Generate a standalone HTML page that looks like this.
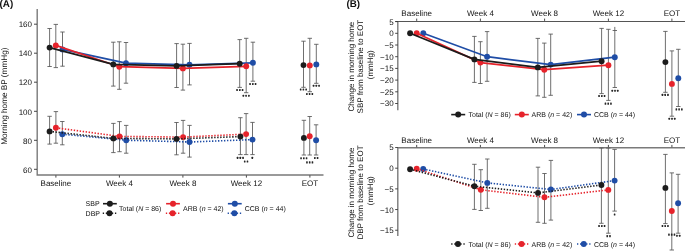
<!DOCTYPE html>
<html><head><meta charset="utf-8"><style>
html,body{margin:0;padding:0;background:#fff;}
body{width:685px;height:251px;overflow:hidden;}
svg{display:block;font-family:"Liberation Sans", sans-serif;will-change:transform;text-rendering:geometricPrecision;}
</style></head><body>
<svg width="685" height="251" viewBox="0 0 685 251">
<text x="-0.4" y="7.0" font-size="9.8" font-weight="bold" fill="#111">(A)</text>
<path d="M37.2,9 V175 H323.5" fill="none" stroke="#7a7a7a" stroke-width="1.4"/>
<line x1="34" y1="24.2" x2="37" y2="24.2" stroke="#333" stroke-width="0.9" />
<text x="32.0" y="27.4" font-size="8" text-anchor="end" font-weight="normal" fill="#111" >160</text>
<line x1="34" y1="53.2" x2="37" y2="53.2" stroke="#333" stroke-width="0.9" />
<text x="32.0" y="56.4" font-size="8" text-anchor="end" font-weight="normal" fill="#111" >140</text>
<line x1="34" y1="82.2" x2="37" y2="82.2" stroke="#333" stroke-width="0.9" />
<text x="32.0" y="85.4" font-size="8" text-anchor="end" font-weight="normal" fill="#111" >120</text>
<line x1="34" y1="111.3" x2="37" y2="111.3" stroke="#333" stroke-width="0.9" />
<text x="32.0" y="114.5" font-size="8" text-anchor="end" font-weight="normal" fill="#111" >100</text>
<line x1="34" y1="140.3" x2="37" y2="140.3" stroke="#333" stroke-width="0.9" />
<text x="32.0" y="143.5" font-size="8" text-anchor="end" font-weight="normal" fill="#111" >80</text>
<line x1="34" y1="169.3" x2="37" y2="169.3" stroke="#333" stroke-width="0.9" />
<text x="32.0" y="172.5" font-size="8" text-anchor="end" font-weight="normal" fill="#111" >60</text>
<line x1="55.9" y1="175.3" x2="55.9" y2="177.6" stroke="#333" stroke-width="0.9" />
<text x="55.9" y="185.9" font-size="8" text-anchor="middle" font-weight="normal" fill="#111" >Baseline</text>
<line x1="119.4" y1="175.3" x2="119.4" y2="177.6" stroke="#333" stroke-width="0.9" />
<text x="119.4" y="185.9" font-size="8" text-anchor="middle" font-weight="normal" fill="#111" >Week 4</text>
<line x1="182.9" y1="175.3" x2="182.9" y2="177.6" stroke="#333" stroke-width="0.9" />
<text x="182.9" y="185.9" font-size="8" text-anchor="middle" font-weight="normal" fill="#111" >Week 8</text>
<line x1="246.4" y1="175.3" x2="246.4" y2="177.6" stroke="#333" stroke-width="0.9" />
<text x="246.4" y="185.9" font-size="8" text-anchor="middle" font-weight="normal" fill="#111" >Week 12</text>
<line x1="309.9" y1="175.3" x2="309.9" y2="177.6" stroke="#333" stroke-width="0.9" />
<text x="309.9" y="185.9" font-size="8" text-anchor="middle" font-weight="normal" fill="#111" >EOT</text>
<text transform="translate(7.2,96.2) rotate(-90)" font-size="8.2" text-anchor="middle" fill="#111">Morning home BP (mmHg)</text>
<line x1="49.6" y1="28.5" x2="49.6" y2="66.5" stroke="#555" stroke-width="0.85" />
<line x1="47.4" y1="28.5" x2="51.8" y2="28.5" stroke="#555" stroke-width="0.85" />
<line x1="47.4" y1="66.5" x2="51.8" y2="66.5" stroke="#555" stroke-width="0.85" />
<line x1="113.3" y1="42.2" x2="113.3" y2="86.1" stroke="#555" stroke-width="0.85" />
<line x1="111.1" y1="42.2" x2="115.5" y2="42.2" stroke="#555" stroke-width="0.85" />
<line x1="111.1" y1="86.1" x2="115.5" y2="86.1" stroke="#555" stroke-width="0.85" />
<line x1="176.6" y1="43.6" x2="176.6" y2="87.5" stroke="#555" stroke-width="0.85" />
<line x1="174.4" y1="43.6" x2="178.8" y2="43.6" stroke="#555" stroke-width="0.85" />
<line x1="174.4" y1="87.5" x2="178.8" y2="87.5" stroke="#555" stroke-width="0.85" />
<line x1="239.7" y1="39.6" x2="239.7" y2="87.4" stroke="#555" stroke-width="0.85" />
<line x1="237.5" y1="39.6" x2="241.9" y2="39.6" stroke="#555" stroke-width="0.85" />
<line x1="237.5" y1="87.4" x2="241.9" y2="87.4" stroke="#555" stroke-width="0.85" />
<line x1="303.5" y1="41.2" x2="303.5" y2="87.3" stroke="#555" stroke-width="0.85" />
<line x1="301.3" y1="41.2" x2="305.7" y2="41.2" stroke="#555" stroke-width="0.85" />
<line x1="301.3" y1="87.3" x2="305.7" y2="87.3" stroke="#555" stroke-width="0.85" />
<line x1="49.6" y1="116.3" x2="49.6" y2="144.1" stroke="#555" stroke-width="0.85" />
<line x1="47.4" y1="116.3" x2="51.8" y2="116.3" stroke="#555" stroke-width="0.85" />
<line x1="47.4" y1="144.1" x2="51.8" y2="144.1" stroke="#555" stroke-width="0.85" />
<line x1="113.4" y1="123.4" x2="113.4" y2="152.6" stroke="#555" stroke-width="0.85" />
<line x1="111.2" y1="123.4" x2="115.6" y2="123.4" stroke="#555" stroke-width="0.85" />
<line x1="111.2" y1="152.6" x2="115.6" y2="152.6" stroke="#555" stroke-width="0.85" />
<line x1="176.5" y1="122.5" x2="176.5" y2="154.8" stroke="#555" stroke-width="0.85" />
<line x1="174.3" y1="122.5" x2="178.7" y2="122.5" stroke="#555" stroke-width="0.85" />
<line x1="174.3" y1="154.8" x2="178.7" y2="154.8" stroke="#555" stroke-width="0.85" />
<line x1="240.4" y1="117.7" x2="240.4" y2="154.6" stroke="#555" stroke-width="0.85" />
<line x1="238.2" y1="117.7" x2="242.6" y2="117.7" stroke="#555" stroke-width="0.85" />
<line x1="238.2" y1="154.6" x2="242.6" y2="154.6" stroke="#555" stroke-width="0.85" />
<line x1="303.9" y1="120.3" x2="303.9" y2="155.0" stroke="#555" stroke-width="0.85" />
<line x1="301.7" y1="120.3" x2="306.1" y2="120.3" stroke="#555" stroke-width="0.85" />
<line x1="301.7" y1="155.0" x2="306.1" y2="155.0" stroke="#555" stroke-width="0.85" />
<line x1="55.8" y1="24.4" x2="55.8" y2="67.6" stroke="#555" stroke-width="0.85" />
<line x1="53.6" y1="24.4" x2="58.0" y2="24.4" stroke="#555" stroke-width="0.85" />
<line x1="53.6" y1="67.6" x2="58.0" y2="67.6" stroke="#555" stroke-width="0.85" />
<line x1="119.3" y1="41.8" x2="119.3" y2="89.3" stroke="#555" stroke-width="0.85" />
<line x1="117.1" y1="41.8" x2="121.5" y2="41.8" stroke="#555" stroke-width="0.85" />
<line x1="117.1" y1="89.3" x2="121.5" y2="89.3" stroke="#555" stroke-width="0.85" />
<line x1="182.9" y1="44.2" x2="182.9" y2="90.1" stroke="#555" stroke-width="0.85" />
<line x1="180.7" y1="44.2" x2="185.1" y2="44.2" stroke="#555" stroke-width="0.85" />
<line x1="180.7" y1="90.1" x2="185.1" y2="90.1" stroke="#555" stroke-width="0.85" />
<line x1="246.2" y1="38.3" x2="246.2" y2="92.7" stroke="#555" stroke-width="0.85" />
<line x1="244.0" y1="38.3" x2="248.4" y2="38.3" stroke="#555" stroke-width="0.85" />
<line x1="244.0" y1="92.7" x2="248.4" y2="92.7" stroke="#555" stroke-width="0.85" />
<line x1="309.8" y1="38.3" x2="309.8" y2="91.7" stroke="#555" stroke-width="0.85" />
<line x1="307.6" y1="38.3" x2="312.0" y2="38.3" stroke="#555" stroke-width="0.85" />
<line x1="307.6" y1="91.7" x2="312.0" y2="91.7" stroke="#555" stroke-width="0.85" />
<line x1="55.9" y1="111.6" x2="55.9" y2="143.2" stroke="#555" stroke-width="0.85" />
<line x1="53.7" y1="111.6" x2="58.1" y2="111.6" stroke="#555" stroke-width="0.85" />
<line x1="53.7" y1="143.2" x2="58.1" y2="143.2" stroke="#555" stroke-width="0.85" />
<line x1="119.5" y1="121.6" x2="119.5" y2="151.7" stroke="#555" stroke-width="0.85" />
<line x1="117.3" y1="121.6" x2="121.7" y2="121.6" stroke="#555" stroke-width="0.85" />
<line x1="117.3" y1="151.7" x2="121.7" y2="151.7" stroke="#555" stroke-width="0.85" />
<line x1="183.1" y1="120.4" x2="183.1" y2="153.2" stroke="#555" stroke-width="0.85" />
<line x1="180.9" y1="120.4" x2="185.3" y2="120.4" stroke="#555" stroke-width="0.85" />
<line x1="180.9" y1="153.2" x2="185.3" y2="153.2" stroke="#555" stroke-width="0.85" />
<line x1="246.1" y1="113.6" x2="246.1" y2="154.6" stroke="#555" stroke-width="0.85" />
<line x1="243.9" y1="113.6" x2="248.3" y2="113.6" stroke="#555" stroke-width="0.85" />
<line x1="243.9" y1="154.6" x2="248.3" y2="154.6" stroke="#555" stroke-width="0.85" />
<line x1="309.7" y1="116.5" x2="309.7" y2="155.0" stroke="#555" stroke-width="0.85" />
<line x1="307.5" y1="116.5" x2="311.9" y2="116.5" stroke="#555" stroke-width="0.85" />
<line x1="307.5" y1="155.0" x2="311.9" y2="155.0" stroke="#555" stroke-width="0.85" />
<line x1="62.5" y1="32.0" x2="62.5" y2="66.2" stroke="#555" stroke-width="0.85" />
<line x1="60.3" y1="32.0" x2="64.7" y2="32.0" stroke="#555" stroke-width="0.85" />
<line x1="60.3" y1="66.2" x2="64.7" y2="66.2" stroke="#555" stroke-width="0.85" />
<line x1="126.0" y1="42.5" x2="126.0" y2="83.2" stroke="#555" stroke-width="0.85" />
<line x1="123.8" y1="42.5" x2="128.2" y2="42.5" stroke="#555" stroke-width="0.85" />
<line x1="123.8" y1="83.2" x2="128.2" y2="83.2" stroke="#555" stroke-width="0.85" />
<line x1="189.5" y1="43.4" x2="189.5" y2="84.9" stroke="#555" stroke-width="0.85" />
<line x1="187.3" y1="43.4" x2="191.7" y2="43.4" stroke="#555" stroke-width="0.85" />
<line x1="187.3" y1="84.9" x2="191.7" y2="84.9" stroke="#555" stroke-width="0.85" />
<line x1="252.9" y1="42.2" x2="252.9" y2="81.2" stroke="#555" stroke-width="0.85" />
<line x1="250.7" y1="42.2" x2="255.1" y2="42.2" stroke="#555" stroke-width="0.85" />
<line x1="250.7" y1="81.2" x2="255.1" y2="81.2" stroke="#555" stroke-width="0.85" />
<line x1="316.3" y1="44.3" x2="316.3" y2="83.3" stroke="#555" stroke-width="0.85" />
<line x1="314.1" y1="44.3" x2="318.5" y2="44.3" stroke="#555" stroke-width="0.85" />
<line x1="314.1" y1="83.3" x2="318.5" y2="83.3" stroke="#555" stroke-width="0.85" />
<line x1="62.3" y1="121.5" x2="62.3" y2="144.8" stroke="#555" stroke-width="0.85" />
<line x1="60.1" y1="121.5" x2="64.5" y2="121.5" stroke="#555" stroke-width="0.85" />
<line x1="60.1" y1="144.8" x2="64.5" y2="144.8" stroke="#555" stroke-width="0.85" />
<line x1="126.2" y1="125.4" x2="126.2" y2="153.2" stroke="#555" stroke-width="0.85" />
<line x1="124.0" y1="125.4" x2="128.4" y2="125.4" stroke="#555" stroke-width="0.85" />
<line x1="124.0" y1="153.2" x2="128.4" y2="153.2" stroke="#555" stroke-width="0.85" />
<line x1="189.5" y1="125.4" x2="189.5" y2="157.1" stroke="#555" stroke-width="0.85" />
<line x1="187.3" y1="125.4" x2="191.7" y2="125.4" stroke="#555" stroke-width="0.85" />
<line x1="187.3" y1="157.1" x2="191.7" y2="157.1" stroke="#555" stroke-width="0.85" />
<line x1="252.5" y1="122.4" x2="252.5" y2="154.6" stroke="#555" stroke-width="0.85" />
<line x1="250.3" y1="122.4" x2="254.7" y2="122.4" stroke="#555" stroke-width="0.85" />
<line x1="250.3" y1="154.6" x2="254.7" y2="154.6" stroke="#555" stroke-width="0.85" />
<line x1="316.1" y1="124.8" x2="316.1" y2="155.0" stroke="#555" stroke-width="0.85" />
<line x1="313.9" y1="124.8" x2="318.3" y2="124.8" stroke="#555" stroke-width="0.85" />
<line x1="313.9" y1="155.0" x2="318.3" y2="155.0" stroke="#555" stroke-width="0.85" />
<path d="M62.5,49.4 L126.0,63.2 L189.5,64.8 L252.9,62.8" fill="none" stroke="#1f4da6" stroke-width="1.7" />
<circle cx="62.5" cy="49.4" r="2.95" fill="#1f4da6"/>
<circle cx="126.0" cy="63.2" r="2.95" fill="#1f4da6"/>
<circle cx="189.5" cy="64.8" r="2.95" fill="#1f4da6"/>
<circle cx="252.9" cy="62.8" r="2.95" fill="#1f4da6"/>
<path d="M62.3,134.2 L126.2,140.2 L189.5,142.0 L252.5,139.6" fill="none" stroke="#1f4da6" stroke-width="1.6" stroke-dasharray="1.4,1.6"/>
<circle cx="62.3" cy="134.2" r="2.95" fill="#1f4da6"/>
<circle cx="126.2" cy="140.2" r="2.95" fill="#1f4da6"/>
<circle cx="189.5" cy="142.0" r="2.95" fill="#1f4da6"/>
<circle cx="252.5" cy="139.6" r="2.95" fill="#1f4da6"/>
<path d="M55.8,45.4 L119.3,66.7 L182.9,68.4 L246.2,66.3" fill="none" stroke="#e6232b" stroke-width="1.7" />
<circle cx="55.8" cy="45.4" r="2.95" fill="#e6232b"/>
<circle cx="119.3" cy="66.7" r="2.95" fill="#e6232b"/>
<circle cx="182.9" cy="68.4" r="2.95" fill="#e6232b"/>
<circle cx="246.2" cy="66.3" r="2.95" fill="#e6232b"/>
<path d="M55.9,127.8 L119.5,136.4 L183.1,137.1 L246.1,134.1" fill="none" stroke="#e6232b" stroke-width="1.6" stroke-dasharray="1.4,1.6"/>
<circle cx="55.9" cy="127.8" r="2.95" fill="#e6232b"/>
<circle cx="119.5" cy="136.4" r="2.95" fill="#e6232b"/>
<circle cx="183.1" cy="137.1" r="2.95" fill="#e6232b"/>
<circle cx="246.1" cy="134.1" r="2.95" fill="#e6232b"/>
<path d="M49.6,47.6 L113.3,64.4 L176.6,65.9 L239.7,63.7" fill="none" stroke="#1c1c1c" stroke-width="1.7" />
<circle cx="49.6" cy="47.6" r="2.95" fill="#1c1c1c"/>
<circle cx="113.3" cy="64.4" r="2.95" fill="#1c1c1c"/>
<circle cx="176.6" cy="65.9" r="2.95" fill="#1c1c1c"/>
<circle cx="239.7" cy="63.7" r="2.95" fill="#1c1c1c"/>
<path d="M49.6,131.4 L113.4,138.4 L176.5,138.9 L240.4,136.6" fill="none" stroke="#1c1c1c" stroke-width="1.6" stroke-dasharray="1.4,1.6"/>
<circle cx="49.6" cy="131.4" r="2.95" fill="#1c1c1c"/>
<circle cx="113.4" cy="138.4" r="2.95" fill="#1c1c1c"/>
<circle cx="176.5" cy="138.9" r="2.95" fill="#1c1c1c"/>
<circle cx="240.4" cy="136.6" r="2.95" fill="#1c1c1c"/>
<circle cx="303.5" cy="65.1" r="2.95" fill="#1c1c1c"/>
<circle cx="303.9" cy="137.9" r="2.95" fill="#1c1c1c"/>
<circle cx="309.8" cy="65.4" r="2.95" fill="#e6232b"/>
<circle cx="309.7" cy="136.2" r="2.95" fill="#e6232b"/>
<circle cx="316.3" cy="64.4" r="2.95" fill="#1f4da6"/>
<circle cx="316.1" cy="140.2" r="2.95" fill="#1f4da6"/>
<rect x="236.25" y="88.95" width="1.6" height="2.1" rx="0.5" fill="#262626"/>
<rect x="239.00" y="88.95" width="1.6" height="2.1" rx="0.5" fill="#262626"/>
<rect x="241.75" y="88.95" width="1.6" height="2.1" rx="0.5" fill="#262626"/>
<rect x="242.55" y="94.65" width="1.6" height="2.1" rx="0.5" fill="#262626"/>
<rect x="245.30" y="94.65" width="1.6" height="2.1" rx="0.5" fill="#262626"/>
<rect x="248.05" y="94.65" width="1.6" height="2.1" rx="0.5" fill="#262626"/>
<rect x="249.25" y="82.95" width="1.6" height="2.1" rx="0.5" fill="#262626"/>
<rect x="252.00" y="82.95" width="1.6" height="2.1" rx="0.5" fill="#262626"/>
<rect x="254.75" y="82.95" width="1.6" height="2.1" rx="0.5" fill="#262626"/>
<rect x="299.85" y="88.45" width="1.6" height="2.1" rx="0.5" fill="#262626"/>
<rect x="302.60" y="88.45" width="1.6" height="2.1" rx="0.5" fill="#262626"/>
<rect x="305.35" y="88.45" width="1.6" height="2.1" rx="0.5" fill="#262626"/>
<rect x="306.05" y="92.95" width="1.6" height="2.1" rx="0.5" fill="#262626"/>
<rect x="308.80" y="92.95" width="1.6" height="2.1" rx="0.5" fill="#262626"/>
<rect x="311.55" y="92.95" width="1.6" height="2.1" rx="0.5" fill="#262626"/>
<rect x="312.75" y="84.75" width="1.6" height="2.1" rx="0.5" fill="#262626"/>
<rect x="315.50" y="84.75" width="1.6" height="2.1" rx="0.5" fill="#262626"/>
<rect x="318.25" y="84.75" width="1.6" height="2.1" rx="0.5" fill="#262626"/>
<rect x="236.75" y="156.85" width="1.6" height="2.1" rx="0.5" fill="#262626"/>
<rect x="239.50" y="156.85" width="1.6" height="2.1" rx="0.5" fill="#262626"/>
<rect x="242.25" y="156.85" width="1.6" height="2.1" rx="0.5" fill="#262626"/>
<rect x="243.92" y="160.45" width="1.6" height="2.1" rx="0.5" fill="#262626"/>
<rect x="246.67" y="160.45" width="1.6" height="2.1" rx="0.5" fill="#262626"/>
<rect x="251.50" y="156.85" width="1.6" height="2.1" rx="0.5" fill="#262626"/>
<rect x="300.25" y="157.15" width="1.6" height="2.1" rx="0.5" fill="#262626"/>
<rect x="303.00" y="157.15" width="1.6" height="2.1" rx="0.5" fill="#262626"/>
<rect x="305.75" y="157.15" width="1.6" height="2.1" rx="0.5" fill="#262626"/>
<rect x="306.15" y="161.35" width="1.6" height="2.1" rx="0.5" fill="#262626"/>
<rect x="308.90" y="161.35" width="1.6" height="2.1" rx="0.5" fill="#262626"/>
<rect x="311.65" y="161.35" width="1.6" height="2.1" rx="0.5" fill="#262626"/>
<rect x="314.02" y="156.95" width="1.6" height="2.1" rx="0.5" fill="#262626"/>
<rect x="316.77" y="156.95" width="1.6" height="2.1" rx="0.5" fill="#262626"/>
<text x="85.6" y="206.2" font-size="7" text-anchor="start" font-weight="normal" fill="#111" >SBP</text>
<text x="85.6" y="215.8" font-size="7" text-anchor="start" font-weight="normal" fill="#111" >DBP</text>
<line x1="103" y1="203.7" x2="116.8" y2="203.7" stroke="#1c1c1c" stroke-width="1.6"/>
<circle cx="109.90" cy="203.7" r="3.0" fill="#1c1c1c"/>
<line x1="102.75" y1="213.2" x2="116.25" y2="213.2" stroke="#1c1c1c" stroke-width="1.5" stroke-dasharray="1.3,1.75"/>
<circle cx="109.50" cy="213.2" r="3.0" fill="#1c1c1c"/>
<line x1="166.1" y1="203.7" x2="179.9" y2="203.7" stroke="#e6232b" stroke-width="1.6"/>
<circle cx="173.00" cy="203.7" r="3.0" fill="#e6232b"/>
<line x1="165.85" y1="213.2" x2="179.35" y2="213.2" stroke="#e6232b" stroke-width="1.5" stroke-dasharray="1.3,1.75"/>
<circle cx="172.60" cy="213.2" r="3.0" fill="#e6232b"/>
<line x1="227.9" y1="203.7" x2="241.7" y2="203.7" stroke="#1f4da6" stroke-width="1.6"/>
<circle cx="234.80" cy="203.7" r="3.0" fill="#1f4da6"/>
<line x1="227.65" y1="213.2" x2="241.15" y2="213.2" stroke="#1f4da6" stroke-width="1.5" stroke-dasharray="1.3,1.75"/>
<circle cx="234.40" cy="213.2" r="3.0" fill="#1f4da6"/>
<text x="119.1" y="211.2" font-size="7" text-anchor="start" font-weight="normal" fill="#111" >Total (<tspan font-style="italic">N</tspan> = 86)</text>
<text x="183.0" y="211.2" font-size="7" text-anchor="start" font-weight="normal" fill="#111" >ARB (<tspan font-style="italic">n</tspan> = 42)</text>
<text x="244.7" y="211.2" font-size="7" text-anchor="start" font-weight="normal" fill="#111" >CCB (<tspan font-style="italic">n</tspan> = 44)</text>
<text x="346.4" y="7.0" font-size="9.8" font-weight="bold" fill="#111">(B)</text>
<path d="M397.8,21.4 V110.3" fill="none" stroke="#7a7a7a" stroke-width="1.4"/>
<line x1="395.3" y1="21.5" x2="685" y2="21.5" stroke="#555" stroke-width="1.1"/>
<line x1="395.2" y1="21.6" x2="397.8" y2="21.6" stroke="#333" stroke-width="0.9" />
<text x="393.6" y="24.55" font-size="8" text-anchor="end" font-weight="normal" fill="#111" >5</text>
<line x1="395.2" y1="33.3" x2="397.8" y2="33.3" stroke="#333" stroke-width="0.9" />
<text x="393.6" y="36.25" font-size="8" text-anchor="end" font-weight="normal" fill="#111" >0</text>
<line x1="395.2" y1="45.0" x2="397.8" y2="45.0" stroke="#333" stroke-width="0.9" />
<text x="393.6" y="47.95" font-size="8" text-anchor="end" font-weight="normal" fill="#111" >−5</text>
<line x1="395.2" y1="56.7" x2="397.8" y2="56.7" stroke="#333" stroke-width="0.9" />
<text x="393.6" y="59.65" font-size="8" text-anchor="end" font-weight="normal" fill="#111" >−10</text>
<line x1="395.2" y1="68.4" x2="397.8" y2="68.4" stroke="#333" stroke-width="0.9" />
<text x="393.6" y="71.35" font-size="8" text-anchor="end" font-weight="normal" fill="#111" >−15</text>
<line x1="395.2" y1="80.1" x2="397.8" y2="80.1" stroke="#333" stroke-width="0.9" />
<text x="393.6" y="83.05" font-size="8" text-anchor="end" font-weight="normal" fill="#111" >−20</text>
<line x1="395.2" y1="91.8" x2="397.8" y2="91.8" stroke="#333" stroke-width="0.9" />
<text x="393.6" y="94.75" font-size="8" text-anchor="end" font-weight="normal" fill="#111" >−25</text>
<line x1="395.2" y1="103.5" x2="397.8" y2="103.5" stroke="#333" stroke-width="0.9" />
<text x="393.6" y="106.45" font-size="8" text-anchor="end" font-weight="normal" fill="#111" >−30</text>
<line x1="416.7" y1="20.9" x2="416.7" y2="18.6" stroke="#333" stroke-width="0.9" />
<text x="416.7" y="16.4" font-size="8" text-anchor="middle" font-weight="normal" fill="#111" >Baseline</text>
<line x1="480.4" y1="20.9" x2="480.4" y2="18.6" stroke="#333" stroke-width="0.9" />
<text x="480.4" y="16.4" font-size="8" text-anchor="middle" font-weight="normal" fill="#111" >Week 4</text>
<line x1="544.6" y1="20.9" x2="544.6" y2="18.6" stroke="#333" stroke-width="0.9" />
<text x="544.6" y="16.4" font-size="8" text-anchor="middle" font-weight="normal" fill="#111" >Week 8</text>
<line x1="608.4" y1="20.9" x2="608.4" y2="18.6" stroke="#333" stroke-width="0.9" />
<text x="608.4" y="16.4" font-size="8" text-anchor="middle" font-weight="normal" fill="#111" >Week 12</text>
<line x1="671.9" y1="20.9" x2="671.9" y2="18.6" stroke="#333" stroke-width="0.9" />
<text x="671.9" y="16.4" font-size="8" text-anchor="middle" font-weight="normal" fill="#111" >EOT</text>
<text transform="translate(354.0,66.6) rotate(-90)" font-size="8" text-anchor="middle" fill="#111">Change in morning home</text>
<text transform="translate(363.3,66.6) rotate(-90)" font-size="8" text-anchor="middle" fill="#111">SBP from baseline to EOT</text>
<text transform="translate(372.6,64.8) rotate(-90)" font-size="8" text-anchor="middle" fill="#111">(mmHg)</text>
<path d="M685,147.7 H397.8 V236.1" fill="none" stroke="#7a7a7a" stroke-width="1.4"/>
<line x1="395.2" y1="147.52" x2="397.8" y2="147.52" stroke="#333" stroke-width="0.9" />
<text x="393.6" y="150.47" font-size="8" text-anchor="end" font-weight="normal" fill="#111" >5</text>
<line x1="395.2" y1="168.2" x2="397.8" y2="168.2" stroke="#333" stroke-width="0.9" />
<text x="393.6" y="171.15" font-size="8" text-anchor="end" font-weight="normal" fill="#111" >0</text>
<line x1="395.2" y1="188.88" x2="397.8" y2="188.88" stroke="#333" stroke-width="0.9" />
<text x="393.6" y="191.82" font-size="8" text-anchor="end" font-weight="normal" fill="#111" >−5</text>
<line x1="395.2" y1="209.55" x2="397.8" y2="209.55" stroke="#333" stroke-width="0.9" />
<text x="393.6" y="212.5" font-size="8" text-anchor="end" font-weight="normal" fill="#111" >−10</text>
<line x1="395.2" y1="230.22" x2="397.8" y2="230.22" stroke="#333" stroke-width="0.9" />
<text x="393.6" y="233.17" font-size="8" text-anchor="end" font-weight="normal" fill="#111" >−15</text>
<line x1="416.7" y1="147.2" x2="416.7" y2="144.9" stroke="#333" stroke-width="0.9" />
<text x="416.7" y="142.7" font-size="8" text-anchor="middle" font-weight="normal" fill="#111" >Baseline</text>
<line x1="480.4" y1="147.2" x2="480.4" y2="144.9" stroke="#333" stroke-width="0.9" />
<text x="480.4" y="142.7" font-size="8" text-anchor="middle" font-weight="normal" fill="#111" >Week 4</text>
<line x1="544.6" y1="147.2" x2="544.6" y2="144.9" stroke="#333" stroke-width="0.9" />
<text x="544.6" y="142.7" font-size="8" text-anchor="middle" font-weight="normal" fill="#111" >Week 8</text>
<line x1="608.4" y1="147.2" x2="608.4" y2="144.9" stroke="#333" stroke-width="0.9" />
<text x="608.4" y="142.7" font-size="8" text-anchor="middle" font-weight="normal" fill="#111" >Week 12</text>
<line x1="671.9" y1="147.2" x2="671.9" y2="144.9" stroke="#333" stroke-width="0.9" />
<text x="671.9" y="142.7" font-size="8" text-anchor="middle" font-weight="normal" fill="#111" >EOT</text>
<text transform="translate(354.0,192.5) rotate(-90)" font-size="8" text-anchor="middle" fill="#111">Change in morning home</text>
<text transform="translate(363.3,192.5) rotate(-90)" font-size="8" text-anchor="middle" fill="#111">DBP from baseline to EOT</text>
<text transform="translate(372.6,190.7) rotate(-90)" font-size="8" text-anchor="middle" fill="#111">(mmHg)</text>
<line x1="474.4" y1="36.4" x2="474.4" y2="82.4" stroke="#555" stroke-width="0.85" />
<line x1="472.2" y1="36.4" x2="476.6" y2="36.4" stroke="#555" stroke-width="0.85" />
<line x1="472.2" y1="82.4" x2="476.6" y2="82.4" stroke="#555" stroke-width="0.85" />
<line x1="537.8" y1="38.4" x2="537.8" y2="95.9" stroke="#555" stroke-width="0.85" />
<line x1="535.6" y1="38.4" x2="540.0" y2="38.4" stroke="#555" stroke-width="0.85" />
<line x1="535.6" y1="95.9" x2="540.0" y2="95.9" stroke="#555" stroke-width="0.85" />
<line x1="601.6" y1="28.4" x2="601.6" y2="93.6" stroke="#555" stroke-width="0.85" />
<line x1="599.4" y1="28.4" x2="603.8" y2="28.4" stroke="#555" stroke-width="0.85" />
<line x1="599.4" y1="93.6" x2="603.8" y2="93.6" stroke="#555" stroke-width="0.85" />
<line x1="665.4" y1="31.4" x2="665.4" y2="92.3" stroke="#555" stroke-width="0.85" />
<line x1="663.2" y1="31.4" x2="667.6" y2="31.4" stroke="#555" stroke-width="0.85" />
<line x1="663.2" y1="92.3" x2="667.6" y2="92.3" stroke="#555" stroke-width="0.85" />
<line x1="474.4" y1="164.3" x2="474.4" y2="209.4" stroke="#555" stroke-width="0.85" />
<line x1="472.2" y1="164.3" x2="476.6" y2="164.3" stroke="#555" stroke-width="0.85" />
<line x1="472.2" y1="209.4" x2="476.6" y2="209.4" stroke="#555" stroke-width="0.85" />
<line x1="538.0" y1="167.2" x2="538.0" y2="222.3" stroke="#555" stroke-width="0.85" />
<line x1="535.8" y1="167.2" x2="540.2" y2="167.2" stroke="#555" stroke-width="0.85" />
<line x1="535.8" y1="222.3" x2="540.2" y2="222.3" stroke="#555" stroke-width="0.85" />
<line x1="601.4" y1="148.0" x2="601.4" y2="223.3" stroke="#555" stroke-width="0.85" />
<line x1="599.2" y1="148.0" x2="603.6" y2="148.0" stroke="#555" stroke-width="0.85" />
<line x1="599.2" y1="223.3" x2="603.6" y2="223.3" stroke="#555" stroke-width="0.85" />
<line x1="665.4" y1="154.4" x2="665.4" y2="223.6" stroke="#555" stroke-width="0.85" />
<line x1="663.2" y1="154.4" x2="667.6" y2="154.4" stroke="#555" stroke-width="0.85" />
<line x1="663.2" y1="223.6" x2="667.6" y2="223.6" stroke="#555" stroke-width="0.85" />
<line x1="480.4" y1="41.7" x2="480.4" y2="83.5" stroke="#555" stroke-width="0.85" />
<line x1="478.2" y1="41.7" x2="482.6" y2="41.7" stroke="#555" stroke-width="0.85" />
<line x1="478.2" y1="83.5" x2="482.6" y2="83.5" stroke="#555" stroke-width="0.85" />
<line x1="544.3" y1="43.1" x2="544.3" y2="97.3" stroke="#555" stroke-width="0.85" />
<line x1="542.1" y1="43.1" x2="546.5" y2="43.1" stroke="#555" stroke-width="0.85" />
<line x1="542.1" y1="97.3" x2="546.5" y2="97.3" stroke="#555" stroke-width="0.85" />
<line x1="608.4" y1="29.3" x2="608.4" y2="100.4" stroke="#555" stroke-width="0.85" />
<line x1="606.2" y1="29.3" x2="610.6" y2="29.3" stroke="#555" stroke-width="0.85" />
<line x1="606.2" y1="100.4" x2="610.6" y2="100.4" stroke="#555" stroke-width="0.85" />
<line x1="671.9" y1="50.9" x2="671.9" y2="116.2" stroke="#555" stroke-width="0.85" />
<line x1="669.7" y1="50.9" x2="674.1" y2="50.9" stroke="#555" stroke-width="0.85" />
<line x1="669.7" y1="116.2" x2="674.1" y2="116.2" stroke="#555" stroke-width="0.85" />
<line x1="480.8" y1="169.7" x2="480.8" y2="210.5" stroke="#555" stroke-width="0.85" />
<line x1="478.6" y1="169.7" x2="483.0" y2="169.7" stroke="#555" stroke-width="0.85" />
<line x1="478.6" y1="210.5" x2="483.0" y2="210.5" stroke="#555" stroke-width="0.85" />
<line x1="544.5" y1="173.5" x2="544.5" y2="223.3" stroke="#555" stroke-width="0.85" />
<line x1="542.3" y1="173.5" x2="546.7" y2="173.5" stroke="#555" stroke-width="0.85" />
<line x1="542.3" y1="223.3" x2="546.7" y2="223.3" stroke="#555" stroke-width="0.85" />
<line x1="608.3" y1="148.0" x2="608.3" y2="233.2" stroke="#555" stroke-width="0.85" />
<line x1="606.1" y1="148.0" x2="610.5" y2="148.0" stroke="#555" stroke-width="0.85" />
<line x1="606.1" y1="233.2" x2="610.5" y2="233.2" stroke="#555" stroke-width="0.85" />
<line x1="671.8" y1="172.9" x2="671.8" y2="250.0" stroke="#555" stroke-width="0.85" />
<line x1="669.6" y1="172.9" x2="674.0" y2="172.9" stroke="#555" stroke-width="0.85" />
<line x1="669.6" y1="250.0" x2="674.0" y2="250.0" stroke="#555" stroke-width="0.85" />
<line x1="487.1" y1="31.6" x2="487.1" y2="81.3" stroke="#555" stroke-width="0.85" />
<line x1="484.9" y1="31.6" x2="489.3" y2="31.6" stroke="#555" stroke-width="0.85" />
<line x1="484.9" y1="81.3" x2="489.3" y2="81.3" stroke="#555" stroke-width="0.85" />
<line x1="550.7" y1="34.1" x2="550.7" y2="95.3" stroke="#555" stroke-width="0.85" />
<line x1="548.5" y1="34.1" x2="552.9" y2="34.1" stroke="#555" stroke-width="0.85" />
<line x1="548.5" y1="95.3" x2="552.9" y2="95.3" stroke="#555" stroke-width="0.85" />
<line x1="614.8" y1="26.9" x2="614.8" y2="87.5" stroke="#555" stroke-width="0.85" />
<line x1="612.6" y1="30.5" x2="617.0" y2="30.5" stroke="#555" stroke-width="0.85" />
<line x1="612.6" y1="87.5" x2="617.0" y2="87.5" stroke="#555" stroke-width="0.85" />
<line x1="678.3" y1="49.3" x2="678.3" y2="106.5" stroke="#555" stroke-width="0.85" />
<line x1="676.1" y1="49.3" x2="680.5" y2="49.3" stroke="#555" stroke-width="0.85" />
<line x1="676.1" y1="106.5" x2="680.5" y2="106.5" stroke="#555" stroke-width="0.85" />
<line x1="487.3" y1="159.0" x2="487.3" y2="208.3" stroke="#555" stroke-width="0.85" />
<line x1="485.1" y1="159.0" x2="489.5" y2="159.0" stroke="#555" stroke-width="0.85" />
<line x1="485.1" y1="208.3" x2="489.5" y2="208.3" stroke="#555" stroke-width="0.85" />
<line x1="550.9" y1="160.4" x2="550.9" y2="220.1" stroke="#555" stroke-width="0.85" />
<line x1="548.7" y1="160.4" x2="553.1" y2="160.4" stroke="#555" stroke-width="0.85" />
<line x1="548.7" y1="220.1" x2="553.1" y2="220.1" stroke="#555" stroke-width="0.85" />
<line x1="614.6" y1="149.4" x2="614.6" y2="211.1" stroke="#555" stroke-width="0.85" />
<line x1="612.4" y1="149.4" x2="616.8" y2="149.4" stroke="#555" stroke-width="0.85" />
<line x1="612.4" y1="211.1" x2="616.8" y2="211.1" stroke="#555" stroke-width="0.85" />
<line x1="678.1" y1="174.3" x2="678.1" y2="233.2" stroke="#555" stroke-width="0.85" />
<line x1="675.9" y1="174.3" x2="680.3" y2="174.3" stroke="#555" stroke-width="0.85" />
<line x1="675.9" y1="233.2" x2="680.3" y2="233.2" stroke="#555" stroke-width="0.85" />
<path d="M423.3,33.3 L487.1,56.7 L550.7,64.6 L614.8,57.2" fill="none" stroke="#1f4da6" stroke-width="1.7" />
<circle cx="423.3" cy="33.3" r="2.95" fill="#1f4da6"/>
<circle cx="487.1" cy="56.7" r="2.95" fill="#1f4da6"/>
<circle cx="550.7" cy="64.6" r="2.95" fill="#1f4da6"/>
<circle cx="614.8" cy="57.2" r="2.95" fill="#1f4da6"/>
<path d="M423.2,169.0 L487.3,182.9 L550.9,189.5 L614.6,180.6" fill="none" stroke="#1f4da6" stroke-width="1.6" stroke-dasharray="1.4,1.6"/>
<circle cx="423.2" cy="169.0" r="2.95" fill="#1f4da6"/>
<circle cx="487.3" cy="182.9" r="2.95" fill="#1f4da6"/>
<circle cx="550.9" cy="189.5" r="2.95" fill="#1f4da6"/>
<circle cx="614.6" cy="180.6" r="2.95" fill="#1f4da6"/>
<path d="M416.7,33.3 L480.4,62.6 L544.3,69.7 L608.4,65.2" fill="none" stroke="#e6232b" stroke-width="1.7" />
<circle cx="416.7" cy="33.3" r="2.95" fill="#e6232b"/>
<circle cx="480.4" cy="62.6" r="2.95" fill="#e6232b"/>
<circle cx="544.3" cy="69.7" r="2.95" fill="#e6232b"/>
<circle cx="608.4" cy="65.2" r="2.95" fill="#e6232b"/>
<path d="M416.7,168.7 L480.8,189.8 L544.5,197.3 L608.3,189.9" fill="none" stroke="#e6232b" stroke-width="1.6" stroke-dasharray="1.4,1.6"/>
<circle cx="416.7" cy="168.7" r="2.95" fill="#e6232b"/>
<circle cx="480.8" cy="189.8" r="2.95" fill="#e6232b"/>
<circle cx="544.5" cy="197.3" r="2.95" fill="#e6232b"/>
<circle cx="608.3" cy="189.9" r="2.95" fill="#e6232b"/>
<path d="M410.1,33.25 L474.4,59.4 L537.8,67.4 L601.6,61.2" fill="none" stroke="#1c1c1c" stroke-width="1.7" />
<circle cx="410.1" cy="33.25" r="2.95" fill="#1c1c1c"/>
<circle cx="474.4" cy="59.4" r="2.95" fill="#1c1c1c"/>
<circle cx="537.8" cy="67.4" r="2.95" fill="#1c1c1c"/>
<circle cx="601.6" cy="61.2" r="2.95" fill="#1c1c1c"/>
<path d="M410.1,169.2 L474.4,186.2 L538.0,192.9 L601.4,185.0" fill="none" stroke="#1c1c1c" stroke-width="1.6" stroke-dasharray="1.4,1.6"/>
<circle cx="410.1" cy="169.2" r="2.95" fill="#1c1c1c"/>
<circle cx="474.4" cy="186.2" r="2.95" fill="#1c1c1c"/>
<circle cx="538.0" cy="192.9" r="2.95" fill="#1c1c1c"/>
<circle cx="601.4" cy="185.0" r="2.95" fill="#1c1c1c"/>
<circle cx="665.4" cy="62.1" r="2.95" fill="#1c1c1c"/>
<circle cx="665.4" cy="187.9" r="2.95" fill="#1c1c1c"/>
<circle cx="671.9" cy="83.9" r="2.95" fill="#e6232b"/>
<circle cx="671.8" cy="211.0" r="2.95" fill="#e6232b"/>
<circle cx="678.3" cy="78.3" r="2.95" fill="#1f4da6"/>
<circle cx="678.1" cy="203.3" r="2.95" fill="#1f4da6"/>
<rect x="598.25" y="94.95" width="1.6" height="2.1" rx="0.5" fill="#262626"/>
<rect x="601.00" y="94.95" width="1.6" height="2.1" rx="0.5" fill="#262626"/>
<rect x="603.75" y="94.95" width="1.6" height="2.1" rx="0.5" fill="#262626"/>
<rect x="604.65" y="102.55" width="1.6" height="2.1" rx="0.5" fill="#262626"/>
<rect x="607.40" y="102.55" width="1.6" height="2.1" rx="0.5" fill="#262626"/>
<rect x="610.15" y="102.55" width="1.6" height="2.1" rx="0.5" fill="#262626"/>
<rect x="611.45" y="89.75" width="1.6" height="2.1" rx="0.5" fill="#262626"/>
<rect x="614.20" y="89.75" width="1.6" height="2.1" rx="0.5" fill="#262626"/>
<rect x="616.95" y="89.75" width="1.6" height="2.1" rx="0.5" fill="#262626"/>
<rect x="661.65" y="93.85" width="1.6" height="2.1" rx="0.5" fill="#262626"/>
<rect x="664.40" y="93.85" width="1.6" height="2.1" rx="0.5" fill="#262626"/>
<rect x="667.15" y="93.85" width="1.6" height="2.1" rx="0.5" fill="#262626"/>
<rect x="668.45" y="117.75" width="1.6" height="2.1" rx="0.5" fill="#262626"/>
<rect x="671.20" y="117.75" width="1.6" height="2.1" rx="0.5" fill="#262626"/>
<rect x="673.95" y="117.75" width="1.6" height="2.1" rx="0.5" fill="#262626"/>
<rect x="675.55" y="108.35" width="1.6" height="2.1" rx="0.5" fill="#262626"/>
<rect x="678.30" y="108.35" width="1.6" height="2.1" rx="0.5" fill="#262626"/>
<rect x="681.05" y="108.35" width="1.6" height="2.1" rx="0.5" fill="#262626"/>
<rect x="598.25" y="224.95" width="1.6" height="2.1" rx="0.5" fill="#262626"/>
<rect x="601.00" y="224.95" width="1.6" height="2.1" rx="0.5" fill="#262626"/>
<rect x="603.75" y="224.95" width="1.6" height="2.1" rx="0.5" fill="#262626"/>
<rect x="606.43" y="235.05" width="1.6" height="2.1" rx="0.5" fill="#262626"/>
<rect x="609.18" y="235.05" width="1.6" height="2.1" rx="0.5" fill="#262626"/>
<rect x="613.80" y="213.45" width="1.6" height="2.1" rx="0.5" fill="#262626"/>
<rect x="661.65" y="224.95" width="1.6" height="2.1" rx="0.5" fill="#262626"/>
<rect x="664.40" y="224.95" width="1.6" height="2.1" rx="0.5" fill="#262626"/>
<rect x="667.15" y="224.95" width="1.6" height="2.1" rx="0.5" fill="#262626"/>
<rect x="668.15" y="233.55" width="1.6" height="2.1" rx="0.5" fill="#262626"/>
<rect x="670.90" y="233.55" width="1.6" height="2.1" rx="0.5" fill="#262626"/>
<rect x="673.65" y="233.55" width="1.6" height="2.1" rx="0.5" fill="#262626"/>
<rect x="676.12" y="234.75" width="1.6" height="2.1" rx="0.5" fill="#262626"/>
<rect x="678.88" y="234.75" width="1.6" height="2.1" rx="0.5" fill="#262626"/>
<line x1="451.2" y1="114.6" x2="465.2" y2="114.6" stroke="#1c1c1c" stroke-width="1.6"/>
<circle cx="458.20" cy="114.6" r="3.0" fill="#1c1c1c"/>
<line x1="514.8" y1="114.6" x2="528.8" y2="114.6" stroke="#e6232b" stroke-width="1.6"/>
<circle cx="521.80" cy="114.6" r="3.0" fill="#e6232b"/>
<line x1="577.0" y1="114.6" x2="591.0" y2="114.6" stroke="#1f4da6" stroke-width="1.6"/>
<circle cx="584.00" cy="114.6" r="3.0" fill="#1f4da6"/>
<text x="468.5" y="117.1" font-size="7" text-anchor="start" font-weight="normal" fill="#111" >Total (<tspan font-style="italic">N</tspan> = 86)</text>
<text x="531.6" y="117.1" font-size="7" text-anchor="start" font-weight="normal" fill="#111" >ARB (<tspan font-style="italic">n</tspan> = 42)</text>
<text x="594.0" y="117.1" font-size="7" text-anchor="start" font-weight="normal" fill="#111" >CCB (<tspan font-style="italic">n</tspan> = 44)</text>
<line x1="451.20" y1="244.1" x2="464.70" y2="244.1" stroke="#1c1c1c" stroke-width="1.5" stroke-dasharray="1.3,1.75"/>
<circle cx="457.95" cy="244.1" r="3.0" fill="#1c1c1c"/>
<line x1="514.80" y1="244.1" x2="528.30" y2="244.1" stroke="#e6232b" stroke-width="1.5" stroke-dasharray="1.3,1.75"/>
<circle cx="521.55" cy="244.1" r="3.0" fill="#e6232b"/>
<line x1="577.00" y1="244.1" x2="590.50" y2="244.1" stroke="#1f4da6" stroke-width="1.5" stroke-dasharray="1.3,1.75"/>
<circle cx="583.75" cy="244.1" r="3.0" fill="#1f4da6"/>
<text x="468.5" y="246.6" font-size="7" text-anchor="start" font-weight="normal" fill="#111" >Total (<tspan font-style="italic">N</tspan> = 86)</text>
<text x="531.6" y="246.6" font-size="7" text-anchor="start" font-weight="normal" fill="#111" >ARB (<tspan font-style="italic">n</tspan> = 42)</text>
<text x="594.0" y="246.6" font-size="7" text-anchor="start" font-weight="normal" fill="#111" >CCB (<tspan font-style="italic">n</tspan> = 44)</text>
</svg>
</body></html>
